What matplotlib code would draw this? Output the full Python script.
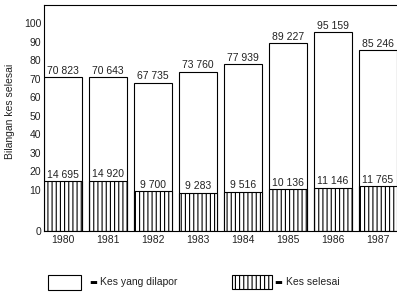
import numpy as np
import matplotlib
matplotlib.use("Agg")
import matplotlib.pyplot as plt
from matplotlib.patches import Rectangle

years = ["1980", "1981", "1982", "1983", "1984", "1985", "1986", "1987"]
reported = [70.823, 70.643, 67.735, 73.760, 77.939, 89.227, 95.159, 85.246]
settled = [14.695, 14.920, 9.700, 9.283, 9.516, 10.136, 11.146, 11.765]
reported_labels = ["70 823", "70 643", "67 735", "73 760", "77 939", "89 227", "95 159", "85 246"]
settled_labels = ["14 695", "14 920", "9 700", "9 283", "9 516", "10 136", "11 146", "11 765"]
y_ticks = [0, 10, 20, 30, 40, 50, 60, 70, 80, 90, 100]

plt.rcParams["font.family"] = ["Liberation Sans", "DejaVu Sans"]
plt.rcParams["hatch.linewidth"] = 0.8

# the original axis is stretched below 10
R = 2.23


def forward(v):
    v = np.asarray(v, dtype=float)
    return np.where(v <= 10, v * R, 10 * R + (v - 10))


def inverse(t):
    t = np.asarray(t, dtype=float)
    return np.where(t <= 10 * R, t / R, t - 10 * R + 10)


fig = plt.figure(figsize=(3.97, 2.92), dpi=100)
ax = fig.add_axes([44 / 397, 61 / 292, 1 - 44 / 397, 226 / 292])
ax.set_yscale("function", functions=(forward, inverse))

x = np.arange(len(years))
width = 0.844
ax.bar(x, reported, width=width, color="white", edgecolor="black", linewidth=0.8)
ax.bar(x, settled, width=width, color="white", edgecolor="black", linewidth=0.8, hatch="||||")

for xi, v, lab in zip(x, reported, reported_labels):
    ax.annotate(lab, (xi, v), xytext=(0, 1), textcoords="offset points",
                ha="center", va="bottom", fontsize=7.5, color="#222222")
for xi, v, lab in zip(x, settled, settled_labels):
    ax.annotate(lab, (xi, v), xytext=(0, 1), textcoords="offset points",
                ha="center", va="bottom", fontsize=7.5, color="#222222")

ax.set_xlim(-0.422, 7.422)
ax.set_ylim(0, 109.8)
ax.set_yticks(y_ticks)
ax.set_yticklabels([str(t) for t in y_ticks])
ax.yaxis.set_minor_locator(matplotlib.ticker.NullLocator())
ax.set_xticks(x)
ax.set_xticklabels(years)
ax.tick_params(axis="both", length=0, labelsize=7.5, pad=2, labelcolor="#222222")
ax.tick_params(axis="x", pad=3)
ax.spines["right"].set_visible(False)
for s in ["left", "top", "bottom"]:
    ax.spines[s].set_linewidth(0.8)
ax.set_ylabel("Bilangan kes selesai", fontsize=7.5, color="#222222")
ax.yaxis.set_label_coords(-0.082, 0.53)

# legend drawn below the axes
fig.patches.append(Rectangle((48 / 397, 2 / 292), 33 / 397, 15 / 292, transform=fig.transFigure,
                             facecolor="white", edgecolor="black", linewidth=0.8))
fig.patches.append(Rectangle((232 / 397, 3 / 292), 40 / 397, 14 / 292, transform=fig.transFigure,
                             facecolor="white", edgecolor="black", linewidth=0.8, hatch="||||"))
fig.text(89 / 397, 10 / 292, "\u25ac", fontsize=6, va="center", family="DejaVu Sans")
fig.text(100 / 397, 10 / 292, "Kes yang dilapor", fontsize=7.5, va="center", color="#222222")
fig.text(274 / 397, 10 / 292, "\u25ac", fontsize=6, va="center", family="DejaVu Sans")
fig.text(286 / 397, 10 / 292, "Kes selesai", fontsize=7.5, va="center", color="#222222")

fig.savefig("out.png", dpi=100)
